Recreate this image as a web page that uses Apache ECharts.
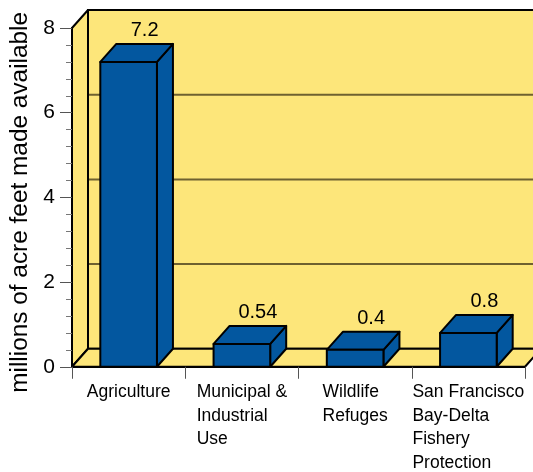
<!DOCTYPE html>
<html>
<head>
<meta charset="utf-8">
<script src="https://cdn.jsdelivr.net/npm/echarts@6/dist/echarts.min.js"></script>
<style>
  html, body { margin: 0; padding: 0; background: #ffffff; }
  #chart { width: 533px; height: 472px; }
</style>
</head>
<body>
<div id="chart"></div>
<script>
// Water made available, by use (millions of acre-feet)
const categories = [
  'Agriculture',
  'Municipal &\nIndustrial\nUse',
  'Wildlife\nRefuges',
  'San Francisco\nBay-Delta\nFishery\nProtection'
];
const acreFeet = [7.2, 0.54, 0.4, 0.8];
const yTicks = [0, 2, 4, 6, 8];

// 3D look: depth offset of the back wall and of each box
const DX = 16, DY = -18;
const YELLOW = '#FDE67A';
const BLUE = '#03579F';
const EDGE = '#000000';
const FONT = '"Liberation Sans", Arial, sans-serif';

const chart = echarts.init(document.getElementById('chart'), null, { renderer: 'canvas' });

function renderWalls(params, api) {
  const cs = params.coordSys;
  const left = cs.x, right = cs.x + cs.width;
  const top = cs.y, bottom = cs.y + cs.height;
  const children = [];
  // back wall
  children.push({
    type: 'rect',
    shape: { x: left + DX, y: top + DY, width: cs.width + 40, height: cs.height },
    style: { fill: YELLOW, stroke: EDGE, lineWidth: 2 }
  });
  // grid lines on the back wall
  yTicks.forEach(function (v) {
    if (v === yTicks[0] || v === yTicks[yTicks.length - 1]) return;
    const y = api.coord([0, v])[1] + DY;
    children.push({
      type: 'line',
      shape: { x1: left + DX, y1: y, x2: right + DX + 40, y2: y },
      style: { stroke: '#6e6130', lineWidth: 2 }
    });
  });
  // left side wall
  children.push({
    type: 'polygon',
    shape: { points: [[left, top], [left + DX, top + DY], [left + DX, bottom + DY], [left, bottom]] },
    style: { fill: YELLOW, stroke: EDGE, lineWidth: 2, lineJoin: 'round' }
  });
  // floor
  children.push({
    type: 'polygon',
    shape: { points: [[left, bottom], [left + DX, bottom + DY], [right + DX, bottom + DY], [right, bottom]] },
    style: { fill: YELLOW, stroke: EDGE, lineWidth: 2, lineJoin: 'round' }
  });
  return { type: 'group', children: children };
}

function renderBox(params, api) {
  const idx = api.value(0);
  const val = api.value(1);
  const topPt = api.coord([idx, val]);
  const basePt = api.coord([idx, 0]);
  const w = api.size([1, 0])[0] * 0.5;
  const x0 = topPt[0] - w / 2;
  const x1 = x0 + w;
  const yt = topPt[1];
  const yb = basePt[1];
  const st = { fill: BLUE, stroke: EDGE, lineWidth: 2, lineJoin: 'round' };
  return {
    type: 'group',
    children: [
      { type: 'polygon', shape: { points: [[x1, yt], [x1 + DX, yt + DY], [x1 + DX, yb + DY], [x1, yb]] }, style: st },
      { type: 'polygon', shape: { points: [[x0, yt], [x0 + DX, yt + DY], [x1 + DX, yt + DY], [x1, yt]] }, style: st },
      { type: 'rect', shape: { x: x0, y: yt, width: w, height: yb - yt }, style: st },
      {
        type: 'text',
        style: {
          text: String(val),
          x: topPt[0] + DX, y: yt + DY - 3,
          align: 'center', verticalAlign: 'bottom',
          font: '20px ' + FONT,
          fill: '#000'
        }
      }
    ]
  };
}

chart.setOption({
  animation: false,
  grid: { left: 72, right: 8, top: 28, bottom: 105, containLabel: false },
  xAxis: {
    type: 'category',
    data: categories,
    boundaryGap: true,
    axisLine: { show: true, lineStyle: { color: '#000', width: 2 } },
    axisTick: { show: true, length: 12, alignWithLabel: false, lineStyle: { color: '#555', width: 1 } },
    axisLabel: {
      interval: 0,
      margin: 14,
      align: 'center',
      formatter: function (v) { return '{a|' + v + '}'; },
      rich: {
        a: {
          align: 'left',
          fontSize: 17.5,
          lineHeight: 23.5,
          color: '#000',
          fontFamily: FONT
        }
      }
    },
    splitLine: { show: false }
  },
  yAxis: {
    type: 'value',
    min: yTicks[0],
    max: yTicks[yTicks.length - 1],
    interval: 2,
    name: 'millions of acre feet made available',
    nameLocation: 'middle',
    nameGap: 36,
    nameTextStyle: { fontSize: 24.4, color: '#000', fontFamily: FONT, padding: [0, 10, 0, 0] },
    axisLine: { show: true, lineStyle: { color: '#000', width: 2 } },
    axisTick: { show: true, length: 12, lineStyle: { color: '#555', width: 1 } },
    minorTick: { show: true, splitNumber: 5, length: 6, lineStyle: { color: '#777', width: 1 } },
    axisLabel: { fontSize: 21, color: '#000', margin: 17, fontFamily: FONT },
    splitLine: { show: false }
  },
  series: [
    {
      type: 'custom',
      name: 'walls',
      z: -1,
      silent: true,
      renderItem: renderWalls,
      data: [[0, 0]]
    },
    {
      type: 'custom',
      name: 'acre-feet',
      z: 3,
      renderItem: renderBox,
      encode: { x: 0, y: 1 },
      data: acreFeet.map(function (v, i) { return [i, v]; })
    }
  ]
});
</script>
</body>
</html>
